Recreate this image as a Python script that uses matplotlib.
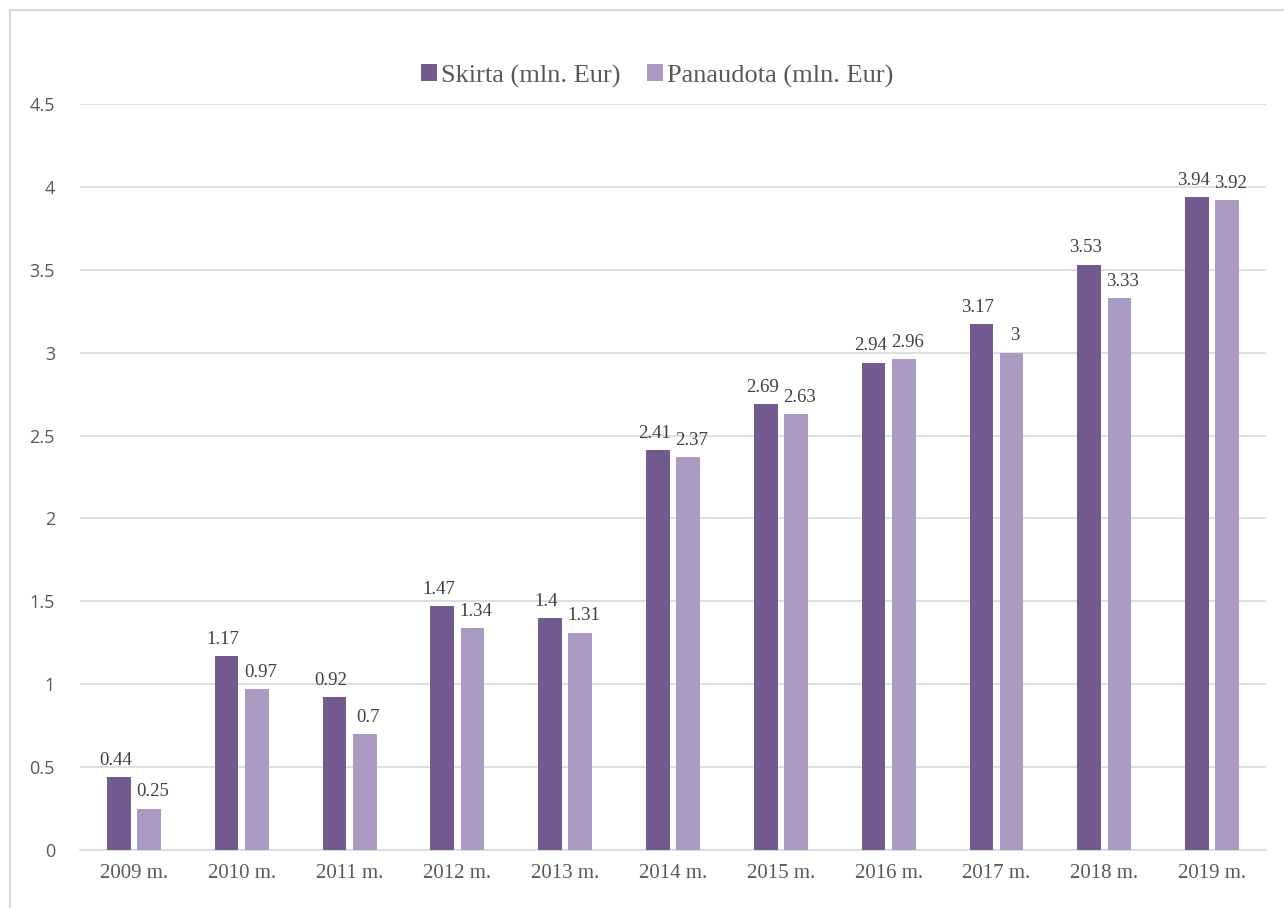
import matplotlib.pyplot as plt
from matplotlib.lines import Line2D
import numpy as np

years = ['2009 m.', '2010 m.', '2011 m.', '2012 m.', '2013 m.', '2014 m.',
         '2015 m.', '2016 m.', '2017 m.', '2018 m.', '2019 m.']
skirta = [0.44, 1.17, 0.92, 1.47, 1.4, 2.41, 2.69, 2.94, 3.17, 3.53, 3.94]
panaudota = [0.25, 0.97, 0.7, 1.34, 1.31, 2.37, 2.63, 2.96, 3, 3.33, 3.92]
labels = ['Skirta (mln. Eur)', 'Panaudota (mln. Eur)']
colors = ['#725A8F', '#A99BC1']

serif = ['Liberation Serif', 'DejaVu Serif']

fig = plt.figure(figsize=(12.84, 9.08), dpi=100)
ax = fig.add_axes([80 / 1284, 1 - 850 / 908, 1186 / 1284, (850 - 104) / 908])

x = np.arange(len(years))
w = 0.22
b1 = ax.bar(x - 0.14, skirta, w, color=colors[0], label=labels[0], zorder=3)
b2 = ax.bar(x + 0.14, panaudota, w, color=colors[1], label=labels[1], zorder=3)

for bars, vals, dx in ((b1, skirta, -2.5), (b2, panaudota, 2.5)):
    for r, v in zip(bars, vals):
        ax.annotate('%g' % v, (r.get_x() + r.get_width() / 2, v),
                    xytext=(dx, 6), textcoords='offset points',
                    ha='center', va='bottom', fontsize=13.5,
                    color='#404040', family=serif, zorder=4)

ax.set_xlim(-0.5, len(years) - 0.5)
ax.set_ylim(0, 4.5)
ax.set_yticks(np.arange(0, 4.51, 0.5))
ax.set_yticklabels(['%g' % t for t in np.arange(0, 4.51, 0.5)])
ax.set_xticks(x)
ax.set_xticklabels(years, family=serif, fontsize=15, color='#595959')
for t in ax.get_yticklabels():
    t.set_family(['Open Sans', 'DejaVu Sans'])
    t.set_fontsize(13)
    t.set_color('#595959')
ax.tick_params(axis='both', length=0)
ax.tick_params(axis='y', pad=18)
ax.tick_params(axis='x', pad=10)
ax.grid(axis='y', color='#D9D9D9', linewidth=1.2, zorder=0)
for s in ['top', 'right', 'left']:
    ax.spines[s].set_visible(False)
ax.spines['bottom'].set_color('#D9D9D9')
ax.spines['bottom'].set_linewidth(1.2)

leg = fig.legend(loc='center', bbox_to_anchor=(0.512, 1 - 76 / 908), ncol=2,
                 frameon=False, prop={'family': serif, 'size': 19},
                 handlelength=0.6, handleheight=0.6, handletextpad=0.15,
                 columnspacing=1.0)
for t in leg.get_texts():
    t.set_color('#595959')

# outer chart border (left and top visible)
fig.add_artist(Line2D([9.5 / 1284, 9.5 / 1284], [0, 1 - 10 / 908],
                      color='#D9D9D9', linewidth=1.5, transform=fig.transFigure))
fig.add_artist(Line2D([9.5 / 1284, 1], [1 - 10 / 908, 1 - 10 / 908],
                      color='#D9D9D9', linewidth=1.5, transform=fig.transFigure))

fig.savefig('out.png', dpi=100)
